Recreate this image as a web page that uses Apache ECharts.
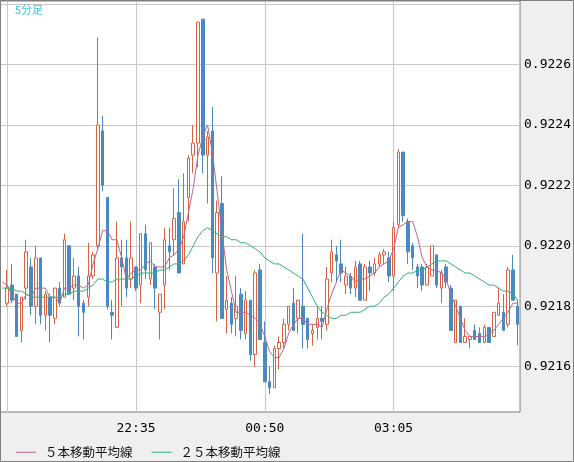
<!DOCTYPE html>
<html>
<head>
<meta charset="utf-8">
<script src="https://cdn.jsdelivr.net/npm/echarts@6/dist/echarts.min.js"></script>
<style>
  html, body { margin: 0; padding: 0; background: #efefef; }
  #chart { width: 574px; height: 462px; }
</style>
</head>
<body>
<div id="chart"></div>
<script>
// 5分足 candles, 20:15 .. 05:15 (first slot is off the left edge, no candle)
const startMinute = 20 * 60 + 15;
const candleCount = 109;
const timeLabels = ['22:35', '00:50', '03:05'];
const priceTicks = [0.9216, 0.9218, 0.9220, 0.9222, 0.9224, 0.9226, 0.9228];
const priceLabels = [0.9216, 0.9218, 0.9220, 0.9222, 0.9224, 0.9226];

// [open, close, low, high]
const ohlc = [
  '-',
  [0.92181, 0.92186, 0.92180, 0.92192],
  [0.92187, 0.92182, 0.92181, 0.92194],
  [0.92184, 0.92170, 0.92170, 0.92184],
  [0.92172, 0.92183, 0.92168, 0.92183],
  [0.92186, 0.92198, 0.92182, 0.92202],
  [0.92193, 0.92180, 0.92177, 0.92196],
  [0.92180, 0.92196, 0.92174, 0.92200],
  [0.92196, 0.92177, 0.92174, 0.92196],
  [0.92177, 0.92184, 0.92172, 0.92185],
  [0.92183, 0.92177, 0.92168, 0.92184],
  [0.92176, 0.92186, 0.92174, 0.92186],
  [0.92186, 0.92181, 0.92180, 0.92188],
  [0.92183, 0.92202, 0.92183, 0.92204],
  [0.92200, 0.92184, 0.92184, 0.92200],
  [0.92186, 0.92190, 0.92182, 0.92196],
  [0.92190, 0.92180, 0.92170, 0.92193],
  [0.92181, 0.92178, 0.92169, 0.92182],
  [0.92183, 0.92190, 0.92180, 0.92201],
  [0.92190, 0.92197, 0.92189, 0.92198],
  [0.92200, 0.92240, 0.92199, 0.92269],
  [0.92238, 0.92220, 0.92218, 0.92243],
  [0.92216, 0.92180, 0.92179, 0.92216],
  [0.92178, 0.92177, 0.92169, 0.92182],
  [0.92173, 0.92196, 0.92173, 0.92208],
  [0.92196, 0.92193, 0.92180, 0.92202],
  [0.92196, 0.92186, 0.92183, 0.92202],
  [0.92189, 0.92196, 0.92186, 0.92208],
  [0.92193, 0.92186, 0.92185, 0.92193],
  [0.92187, 0.92204, 0.92181, 0.92204],
  [0.92204, 0.92192, 0.92189, 0.92207],
  [0.92189, 0.92201, 0.92187, 0.92201],
  [0.92193, 0.92186, 0.92179, 0.92194],
  [0.92178, 0.92184, 0.92169, 0.92184],
  [0.92187, 0.92202, 0.92179, 0.92206],
  [0.92200, 0.92198, 0.92192, 0.92206],
  [0.92202, 0.92209, 0.92197, 0.92219],
  [0.92211, 0.92191, 0.92191, 0.92222],
  [0.92194, 0.92208, 0.92194, 0.92224],
  [0.92216, 0.92229, 0.92208, 0.92230],
  [0.92230, 0.92234, 0.92224, 0.92240],
  [0.92234, 0.92274, 0.92226, 0.92274],
  [0.92275, 0.92230, 0.92224, 0.92275],
  [0.92230, 0.92236, 0.92214, 0.92238],
  [0.92238, 0.92196, 0.92191, 0.92246],
  [0.92191, 0.92211, 0.92175, 0.92215],
  [0.92214, 0.92176, 0.92176, 0.92223],
  [0.92179, 0.92182, 0.92171, 0.92190],
  [0.92181, 0.92174, 0.92171, 0.92183],
  [0.92176, 0.92180, 0.92170, 0.92190],
  [0.92184, 0.92172, 0.92169, 0.92186],
  [0.92171, 0.92182, 0.92169, 0.92185],
  [0.92182, 0.92164, 0.92162, 0.92182],
  [0.92164, 0.92191, 0.92160, 0.92192],
  [0.92192, 0.92169, 0.92169, 0.92194],
  [0.92168, 0.92155, 0.92155, 0.92175],
  [0.92155, 0.92153, 0.92151, 0.92160],
  [0.92153, 0.92166, 0.92153, 0.92167],
  [0.92166, 0.92168, 0.92159, 0.92170],
  [0.92168, 0.92174, 0.92166, 0.92176],
  [0.92174, 0.92180, 0.92172, 0.92180],
  [0.92181, 0.92172, 0.92172, 0.92186],
  [0.92176, 0.92182, 0.92171, 0.92182],
  [0.92180, 0.92174, 0.92166, 0.92204],
  [0.92176, 0.92169, 0.92166, 0.92176],
  [0.92171, 0.92172, 0.92167, 0.92174],
  [0.92173, 0.92176, 0.92169, 0.92180],
  [0.92176, 0.92175, 0.92169, 0.92180],
  [0.92174, 0.92189, 0.92172, 0.92193],
  [0.92191, 0.92198, 0.92188, 0.92202],
  [0.92197, 0.92195, 0.92188, 0.92200],
  [0.92194, 0.92191, 0.92188, 0.92202],
  [0.92187, 0.92190, 0.92184, 0.92193],
  [0.92190, 0.92186, 0.92184, 0.92191],
  [0.92186, 0.92193, 0.92183, 0.92195],
  [0.92194, 0.92182, 0.92182, 0.92195],
  [0.92182, 0.92193, 0.92182, 0.92194],
  [0.92193, 0.92191, 0.92185, 0.92195],
  [0.92191, 0.92194, 0.92190, 0.92196],
  [0.92194, 0.92197, 0.92193, 0.92198],
  [0.92197, 0.92198, 0.92194, 0.92199],
  [0.92196, 0.92190, 0.92188, 0.92198],
  [0.92190, 0.92206, 0.92185, 0.92208],
  [0.92207, 0.92231, 0.92206, 0.92232],
  [0.92231, 0.92210, 0.92208, 0.92231],
  [0.92208, 0.92198, 0.92194, 0.92209],
  [0.92200, 0.92196, 0.92192, 0.92201],
  [0.92193, 0.92190, 0.92186, 0.92194],
  [0.92193, 0.92187, 0.92185, 0.92194],
  [0.92187, 0.92193, 0.92187, 0.92194],
  [0.92190, 0.92200, 0.92190, 0.92200],
  [0.92197, 0.92187, 0.92186, 0.92197],
  [0.92186, 0.92191, 0.92181, 0.92192],
  [0.92193, 0.92188, 0.92186, 0.92194],
  [0.92186, 0.92172, 0.92172, 0.92187],
  [0.92168, 0.92182, 0.92168, 0.92182],
  [0.92180, 0.92168, 0.92168, 0.92180],
  [0.92168, 0.92170, 0.92168, 0.92176],
  [0.92169, 0.92170, 0.92166, 0.92170],
  [0.92172, 0.92169, 0.92169, 0.92174],
  [0.92171, 0.92168, 0.92168, 0.92173],
  [0.92168, 0.92173, 0.92168, 0.92174],
  [0.92173, 0.92168, 0.92168, 0.92173],
  [0.92170, 0.92178, 0.92170, 0.92178],
  [0.92177, 0.92181, 0.92177, 0.92186],
  [0.92178, 0.92172, 0.92172, 0.92184],
  [0.92174, 0.92192, 0.92173, 0.92193],
  [0.92192, 0.92182, 0.92182, 0.92197],
  [0.92180, 0.92174, 0.92167, 0.92182]
];

const ma5 = [
  0.92188, 0.92187, 0.92184, 0.92181, 0.92181, 0.92184, 0.92183, 0.92186, 0.92186, 0.92186,
  0.92183, 0.92183, 0.92181, 0.92186, 0.92186, 0.92187, 0.92187, 0.92186, 0.92187, 0.92194,
  0.92199, 0.92205, 0.92205, 0.92202, 0.92202, 0.92196, 0.92189, 0.92191, 0.92192, 0.92192,
  0.92194, 0.92195, 0.92193, 0.92193, 0.92193, 0.92196, 0.92197, 0.92199, 0.92203, 0.92211,
  0.92219, 0.92230, 0.92236, 0.92240, 0.92231, 0.92218, 0.92205, 0.92192, 0.92185, 0.92178,
  0.92178, 0.92178, 0.92177, 0.92176, 0.92174, 0.92170, 0.92165, 0.92163, 0.92163, 0.92166,
  0.92171, 0.92174, 0.92176, 0.92176, 0.92174, 0.92174, 0.92174, 0.92173, 0.92179, 0.92184,
  0.92188, 0.92192, 0.92191, 0.92190, 0.92188, 0.92189, 0.92189, 0.92190, 0.92191, 0.92193,
  0.92194, 0.92195, 0.92199, 0.92206, 0.92207, 0.92208, 0.92208, 0.92203, 0.92196, 0.92193,
  0.92192, 0.92192, 0.92191, 0.92189, 0.92184, 0.92180, 0.92176, 0.92172, 0.92170, 0.92170,
  0.92170, 0.92170, 0.92171, 0.92172, 0.92174, 0.92176, 0.92178, 0.92181, 0.92181
];

const ma25 = [
  0.92186, 0.92186, 0.92186, 0.92185, 0.92185, 0.92184, 0.92183, 0.92183, 0.92183, 0.92183,
  0.92183, 0.92183, 0.92183, 0.92184, 0.92184, 0.92185, 0.92185, 0.92185, 0.92186, 0.92187,
  0.92189, 0.92189, 0.92188, 0.92188, 0.92189, 0.92189, 0.92189, 0.92189, 0.92190, 0.92191,
  0.92191, 0.92191, 0.92191, 0.92192, 0.92192, 0.92193, 0.92194, 0.92194, 0.92195, 0.92197,
  0.92200, 0.92203, 0.92205, 0.92206, 0.92205, 0.92204, 0.92203, 0.92203, 0.92202, 0.92202,
  0.92201, 0.92201, 0.92200, 0.92199, 0.92198, 0.92196, 0.92195, 0.92194, 0.92194, 0.92193,
  0.92192, 0.92191, 0.92190, 0.92189, 0.92186, 0.92183, 0.92180, 0.92178, 0.92177, 0.92176,
  0.92176, 0.92177, 0.92177, 0.92178, 0.92178, 0.92178, 0.92179, 0.92180, 0.92180, 0.92181,
  0.92183, 0.92184, 0.92186, 0.92188, 0.92190, 0.92191, 0.92191, 0.92192, 0.92192, 0.92193,
  0.92194, 0.92195, 0.92195, 0.92195, 0.92194, 0.92193, 0.92192, 0.92191, 0.92191, 0.92190,
  0.92189, 0.92188, 0.92187, 0.92187, 0.92186, 0.92185, 0.92185, 0.92184, 0.92182
];

const pad = n => (n < 10 ? '0' : '') + n;
const categories = [];
for (let i = 0; i < candleCount; i++) {
  const m = (startMinute + i * 5) % (24 * 60);
  categories.push(pad(Math.floor(m / 60)) + ':' + pad(m % 60));
}

const gridLineIdx = (idx) => idx % 27 === 1;

const chart = echarts.init(document.getElementById('chart'));
const option = {
  animation: false,
  backgroundColor: '#efefef',
  title: {
    text: '5分足',
    left: 15,
    top: 4,
    padding: 0,
    textStyle: {fontSize: 11, fontWeight: 'normal', color: '#3fc3ee', fontFamily: 'Noto Sans CJK JP'}
  },
  legend: {
    data: ['５本移動平均線', '２５本移動平均線'],
    left: 16,
    top: 446,
    padding: 0,
    icon: 'rect',
    itemWidth: 20,
    itemHeight: 1,
    itemGap: 19,
    textStyle: {fontSize: 12.5, color: '#111', fontFamily: 'Noto Sans CJK JP', padding: [0, 0, 0, 4]}
  },
  graphic: [{
    type: 'rect',
    shape: {x: 0.5, y: 0.5, width: 573, height: 461},
    style: {fill: 'none', stroke: '#7f7f7f', lineWidth: 1},
    z: 100
  }],
  grid: {
    left: 0,
    top: 1,
    width: 522,
    height: 411,
    show: true,
    backgroundColor: '#fff',
    borderColor: '#7f7f7f',
    borderWidth: 1
  },
  xAxis: {
    type: 'category',
    data: categories,
    axisLine: {show: false},
    axisTick: {show: false},
    axisLabel: {
      interval: (idx, val) => timeLabels.includes(val),
      margin: 10,
      fontSize: 13,
      color: '#000',
      fontFamily: 'DejaVu Sans Mono'
    },
    splitLine: {
      show: true,
      interval: gridLineIdx,
      alignWithLabel: true,
      lineStyle: {color: '#c8c8c8', width: 1}
    }
  },
  yAxis: {
    type: 'value',
    position: 'right',
    min: 0.92145,
    max: 0.92281,
    scale: true,
    axisLine: {show: false},
    axisTick: {show: false, customValues: priceTicks},
    axisLabel: {
      customValues: priceLabels,
      margin: 4,
      fontSize: 13,
      color: '#000',
      fontFamily: 'DejaVu Sans Mono',
      formatter: v => v.toFixed(4)
    },
    splitLine: {show: true, lineStyle: {color: '#c8c8c8', width: 1}}
  },
  series: [
    {
      name: '5分足',
      type: 'candlestick',
      data: ohlc,
      barWidth: 3,
      itemStyle: {
        color: '#fff',
        color0: '#4a8ac3',
        borderColor: '#d9633f',
        borderColor0: '#4a8ac3',
        borderWidth: 1
      }
    },
    {
      name: '５本移動平均線',
      type: 'line',
      data: ma5,
      symbol: 'none',
      z: 3,
      lineStyle: {color: '#b9668f', width: 1},
      itemStyle: {color: '#b9668f'}
    },
    {
      name: '２５本移動平均線',
      type: 'line',
      data: ma25,
      symbol: 'none',
      z: 3,
      lineStyle: {color: '#2fb277', width: 1},
      itemStyle: {color: '#2fb277'}
    }
  ]
};
chart.setOption(option);
</script>
</body>
</html>
